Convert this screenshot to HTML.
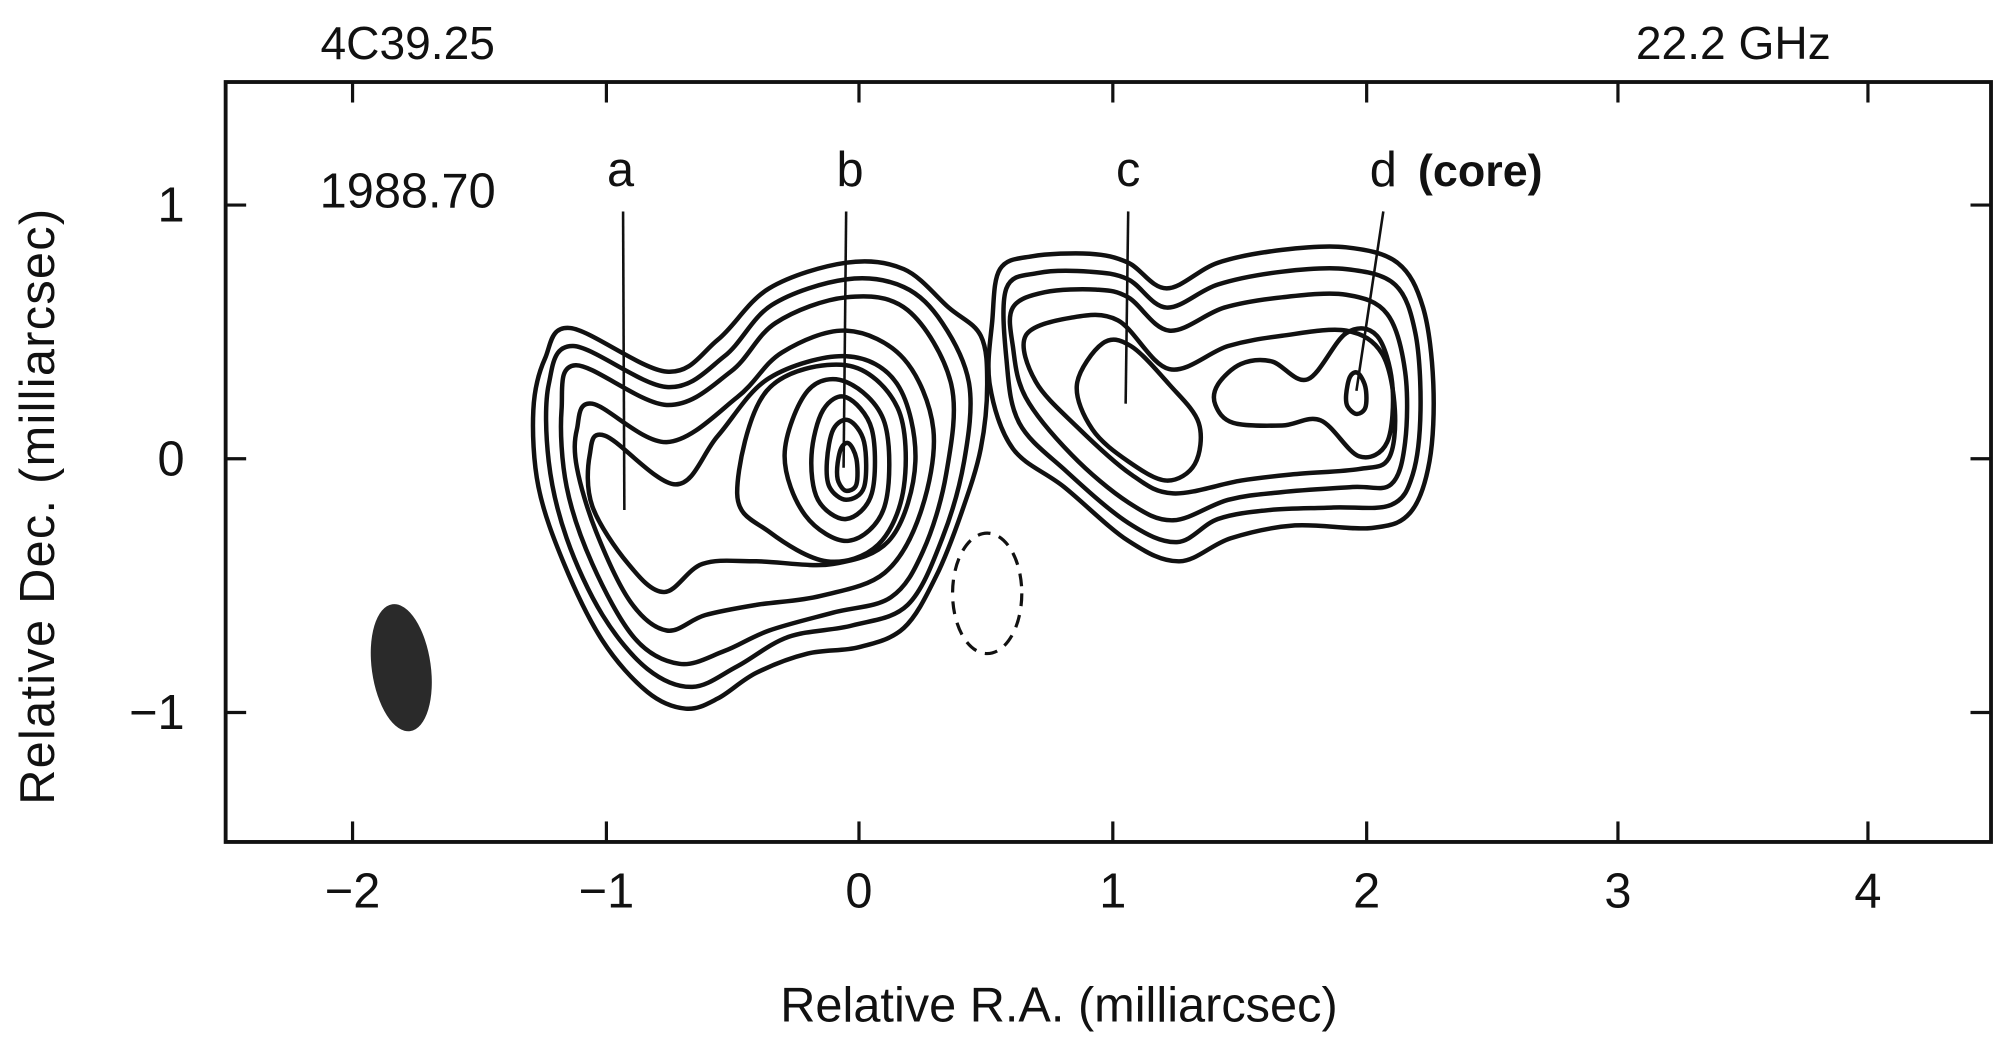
<!DOCTYPE html>
<html><head><meta charset="utf-8"><style>
html,body{margin:0;padding:0;background:#fff;}
svg{display:block;}
text{font-family:"Liberation Sans",sans-serif;fill:#111;}
</style></head><body>
<svg id="s" width="2000" height="1047" viewBox="0 0 1560 817" preserveAspectRatio="none" xmlns="http://www.w3.org/2000/svg">
<rect x="0" y="0" width="1560" height="817" fill="#fff"/>
<rect x="176" y="64" width="1377" height="593" fill="none" stroke="#111" stroke-width="3"/>
<g stroke="#111" stroke-width="2.5">
<line x1="275" y1="64" x2="275" y2="80"/><line x1="473" y1="64" x2="473" y2="80"/><line x1="670" y1="64" x2="670" y2="80"/><line x1="868" y1="64" x2="868" y2="80"/><line x1="1066" y1="64" x2="1066" y2="80"/><line x1="1262" y1="64" x2="1262" y2="80"/><line x1="1457" y1="64" x2="1457" y2="80"/>
<line x1="275" y1="657" x2="275" y2="641"/><line x1="473" y1="657" x2="473" y2="641"/><line x1="670" y1="657" x2="670" y2="641"/><line x1="868" y1="657" x2="868" y2="641"/><line x1="1066" y1="657" x2="1066" y2="641"/><line x1="1262" y1="657" x2="1262" y2="641"/><line x1="1457" y1="657" x2="1457" y2="641"/>
<line x1="176" y1="160" x2="192" y2="160"/><line x1="176" y1="358" x2="192" y2="358"/><line x1="176" y1="556" x2="192" y2="556"/>
<line x1="1553" y1="160" x2="1537" y2="160"/><line x1="1553" y1="358" x2="1537" y2="358"/><line x1="1553" y1="556" x2="1537" y2="556"/>
</g>
<g font-size="38" text-anchor="middle">
<text x="275" y="708">−2</text><text x="473" y="708">−1</text><text x="670" y="708">0</text><text x="868" y="708">1</text><text x="1066" y="708">2</text><text x="1262" y="708">3</text><text x="1457" y="708">4</text>
</g>
<g font-size="38" text-anchor="end">
<text x="144" y="173">1</text><text x="144" y="371">0</text><text x="144" y="569">−1</text>
</g>
<text x="826" y="797" font-size="38" text-anchor="middle">Relative R.A. (milliarcsec)</text>
<text transform="translate(42,395) rotate(-90)" font-size="38" text-anchor="middle" letter-spacing="1">Relative Dec. (milliarcsec)</text>
<text x="318" y="46" font-size="36" text-anchor="middle">4C39.25</text>
<text x="1352" y="46" font-size="36" text-anchor="middle">22.2 GHz</text>
<text x="318" y="162" font-size="38" text-anchor="middle">1988.70</text>
<g font-size="38" text-anchor="middle"><text x="484" y="145">a</text><text x="663" y="145">b</text><text x="880" y="145">c</text><text x="1079" y="145">d</text></g>
<text x="1106" y="145" font-size="35" font-weight="bold">(core)</text>
<g stroke="#111" stroke-width="2" fill="none">
<line x1="486" y1="165" x2="487" y2="398"/><line x1="660" y1="165" x2="658" y2="365"/><line x1="880" y1="165" x2="878" y2="315"/><line x1="1079" y1="165" x2="1058" y2="305"/>
</g>
<g id="cont" stroke="#111" stroke-width="3.5" fill="none"></g>
<ellipse cx="770" cy="463" rx="27" ry="47" fill="none" stroke="#111" stroke-width="2.5" stroke-dasharray="10 7"/>
<ellipse cx="313" cy="521" rx="23" ry="50" transform="rotate(-8 313 521)" fill="#2a2a2a"/>
</svg>
<script>
var C=[
[[445,256],[520,290],[560,265],[600,225],[660,205],[705,210],[740,240],[765,262],[770,300],[765,350],[750,400],[730,450],[705,490],[670,505],[630,510],[590,525],[560,545],[535,553],[505,540],[470,500],[440,440],[420,380],[416,320],[425,280]],
[[447,270],[520,302],[565,278],[602,238],[660,218],[705,224],[735,252],[756,300],[752,360],[735,420],[708,472],[665,488],[615,497],[575,520],[540,536],[505,522],[470,480],[442,420],[428,360],[428,300]],
[[449,285],[520,316],[570,290],[605,252],[660,232],[708,242],[742,300],[738,370],[720,430],[695,466],[650,478],[600,492],[565,508],[530,518],[495,498],[462,440],[442,380],[438,320]],
[[462,315],[520,345],[575,310],[610,275],[660,258],[705,280],[728,335],[718,400],[690,447],[640,465],[590,472],[550,480],[520,492],[492,470],[465,415],[450,365],[450,335]],
[[472,340],[527,378],[560,340],[600,295],[660,278],[700,300],[714,360],[695,420],[650,440],[590,438],[548,440],[518,462],[490,440],[462,395],[460,355]],
[[575,385],[598,305],[660,285],[700,318],[705,380],[685,425],[645,438],[600,415]],
[[612,355],[630,305],[660,298],[690,330],[690,395],[662,422],[628,402]],
[[633,355],[642,320],[660,310],[680,335],[680,385],[660,405],[638,390]],
[[645,360],[650,335],[662,328],[674,345],[674,380],[660,390],[647,380]],
[[653,365],[656,350],[662,346],[668,358],[668,378],[660,383],[654,376]],
[[780,210],[805,200],[850,198],[880,205],[910,225],[950,205],[1000,195],[1050,193],[1090,205],[1110,240],[1118,300],[1115,360],[1100,400],[1070,412],[1010,410],[960,420],[920,438],[880,422],[830,380],[790,350],[772,300],[774,250]],
[[785,225],[810,213],[850,212],[880,218],[910,240],[950,222],[1000,212],[1050,210],[1088,222],[1104,260],[1108,320],[1102,370],[1085,394],[1040,396],[990,398],[950,405],[918,423],[880,408],[832,368],[795,330],[785,280]],
[[790,240],[815,228],[855,226],[880,232],[912,258],[955,240],[1000,232],[1050,230],[1082,245],[1096,290],[1096,345],[1085,378],[1055,380],[1000,384],[958,390],[915,406],[880,392],[836,355],[800,310],[790,270]],
[[800,262],[835,248],[872,250],[912,288],[958,270],[1000,262],[1050,258],[1078,276],[1088,320],[1083,358],[1060,366],[1010,370],[968,375],[915,385],[882,370],[840,333],[808,298]],
[[840,300],[860,268],[882,270],[912,300],[935,330],[932,362],[910,375],[880,360],[852,335]],
[[950,300],[968,284],[992,282],[1020,296],[1050,260],[1074,262],[1086,300],[1082,345],[1060,356],[1030,328],[1000,332],[962,330],[948,316]],
[[1050,308],[1053,294],[1059,291],[1065,302],[1065,318],[1058,323],[1051,317]]
];
var g=document.getElementById('cont'),ns='http://www.w3.org/2000/svg';
C.forEach(function(p){var n=p.length,d='M'+p[0][0]+','+p[0][1];
for(var i=0;i<n;i++){var p0=p[(i-1+n)%n],p1=p[i],p2=p[(i+1)%n],p3=p[(i+2)%n];
d+=' C'+(p1[0]+(p2[0]-p0[0])/6).toFixed(1)+','+(p1[1]+(p2[1]-p0[1])/6).toFixed(1)+' '+(p2[0]-(p3[0]-p1[0])/6).toFixed(1)+','+(p2[1]-(p3[1]-p1[1])/6).toFixed(1)+' '+p2[0]+','+p2[1];}
var e=document.createElementNS(ns,'path');e.setAttribute('d',d+'Z');g.appendChild(e);});
</script>
</body></html>
